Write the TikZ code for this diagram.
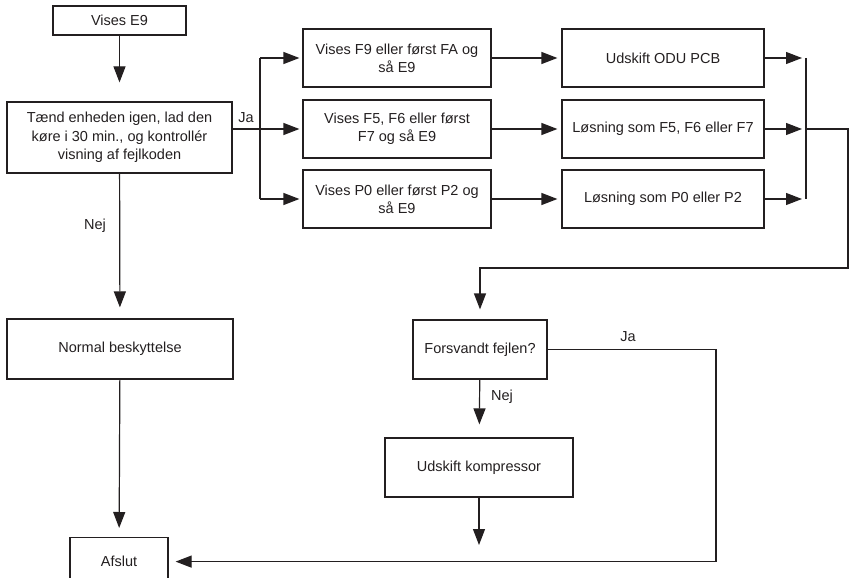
\documentclass[tikz,border=0pt]{standalone}
\usepackage{fontspec}
\setmainfont{Liberation Sans}
\usetikzlibrary{arrows.meta}
\definecolor{ink}{HTML}{231F20}

\begin{document}
\begin{tikzpicture}[x=1pt,y=-1pt,line width=1.2pt,color=ink,
  box/.style={draw,inner sep=0pt,align=center,font=\fontsize{14.5}{18.3}\selectfont},
  lbl/.style={inner sep=0pt,font=\fontsize{14.5}{18.3}\selectfont},
  >={Triangle[length=16pt,width=12pt]}]
\path [use as bounding box,clip] (0,0) rectangle (849,578);

% left column
\node [box,minimum width=133pt,minimum height=29pt] (e9)      at (119.5, 20.5) {Vises E9};
\node [box,minimum width=225pt,minimum height=71pt] (restart) at (119.5,137.5)
    {Tænd enheden igen, lad den\\ køre i 30 min., og kontrollér\\ visning af fejlkoden};
\node [box,minimum width=226pt,minimum height=60pt] (normal)  at (  120,  349) {Normal beskyttelse};
\node [box,minimum width=98pt,minimum height=48pt,anchor=north] (afslut) at (119,537) {Afslut};

% codes and solutions
\node [box,minimum width=188pt,minimum height=58pt] (f9)    at (397, 58) {Vises F9 eller først FA og\\ så E9};
\node [box,minimum width=188pt,minimum height=58pt] (f5)    at (397,129) {Vises F5, F6 eller først\\ F7 og så E9};
\node [box,minimum width=188pt,minimum height=58pt] (p0)    at (397,199) {Vises P0 eller først P2 og\\ så E9};
\node [box,minimum width=202pt,minimum height=58pt] (odu)   at (663, 58) {Udskift ODU PCB};
\node [box,minimum width=202pt,minimum height=58pt] (solf5) at (663,129) {Løsning som F5, F6 eller F7};
\node [box,minimum width=202pt,minimum height=58pt] (solp0) at (663,199) {Løsning som P0 eller P2};

% check
\node [box,minimum width=134pt,minimum height=59pt] (fixed)      at (480,349.5) {Forsvandt fejlen?};
\node [box,minimum width=188pt,minimum height=59pt] (kompressor) at (479,467.5) {Udskift kompressor};

\coordinate (split)  at (260,129);
\coordinate (merge)  at (806,129);
\coordinate (loopr)  at (848,268);
\coordinate (jaturn) at (716,450);
\coordinate (kend)   at (479,545);

\node [lbl] (ja1)  at (246,118) {Ja};
\node [lbl] (nej1) at ( 95,226) {Nej};
\node [lbl] (nej2) at (502,397) {Nej};
\node [lbl] (ja2)  at (628,337) {Ja};

\draw [->,shorten >=19pt] (e9) -- (restart);
\draw (restart.east |- split) -- (split);
\draw (split |- f9) -- (split |- p0);
\foreach \n in {f9,f5,p0}
  \draw [->,shorten >=3pt] (split |- \n) -- (\n.west);
\foreach \a/\b in {f9/odu,f5/solf5,p0/solp0}
  \draw [->,shorten >=4pt] (\a) -- (\b);
\foreach \n in {odu,solf5,solp0}
  \draw [->,shorten >=4pt] (\n.east) -- (merge |- \n);
\draw (merge |- odu) -- (merge |- solp0);
\draw [->,shorten >=10pt] (merge) -| (loopr) -| (fixed.north);
\draw [->,shorten >=11pt] (restart) -- (normal);
\draw [->,shorten >=9pt] (normal) -- (afslut);
\draw [->,shorten >=13pt] (fixed) -- (kompressor);
\draw [->] (kompressor) -- (kend);
\draw [->,shorten >=7pt] (fixed.east) -| (jaturn) |- (afslut.east);
\end{tikzpicture}
\end{document}
